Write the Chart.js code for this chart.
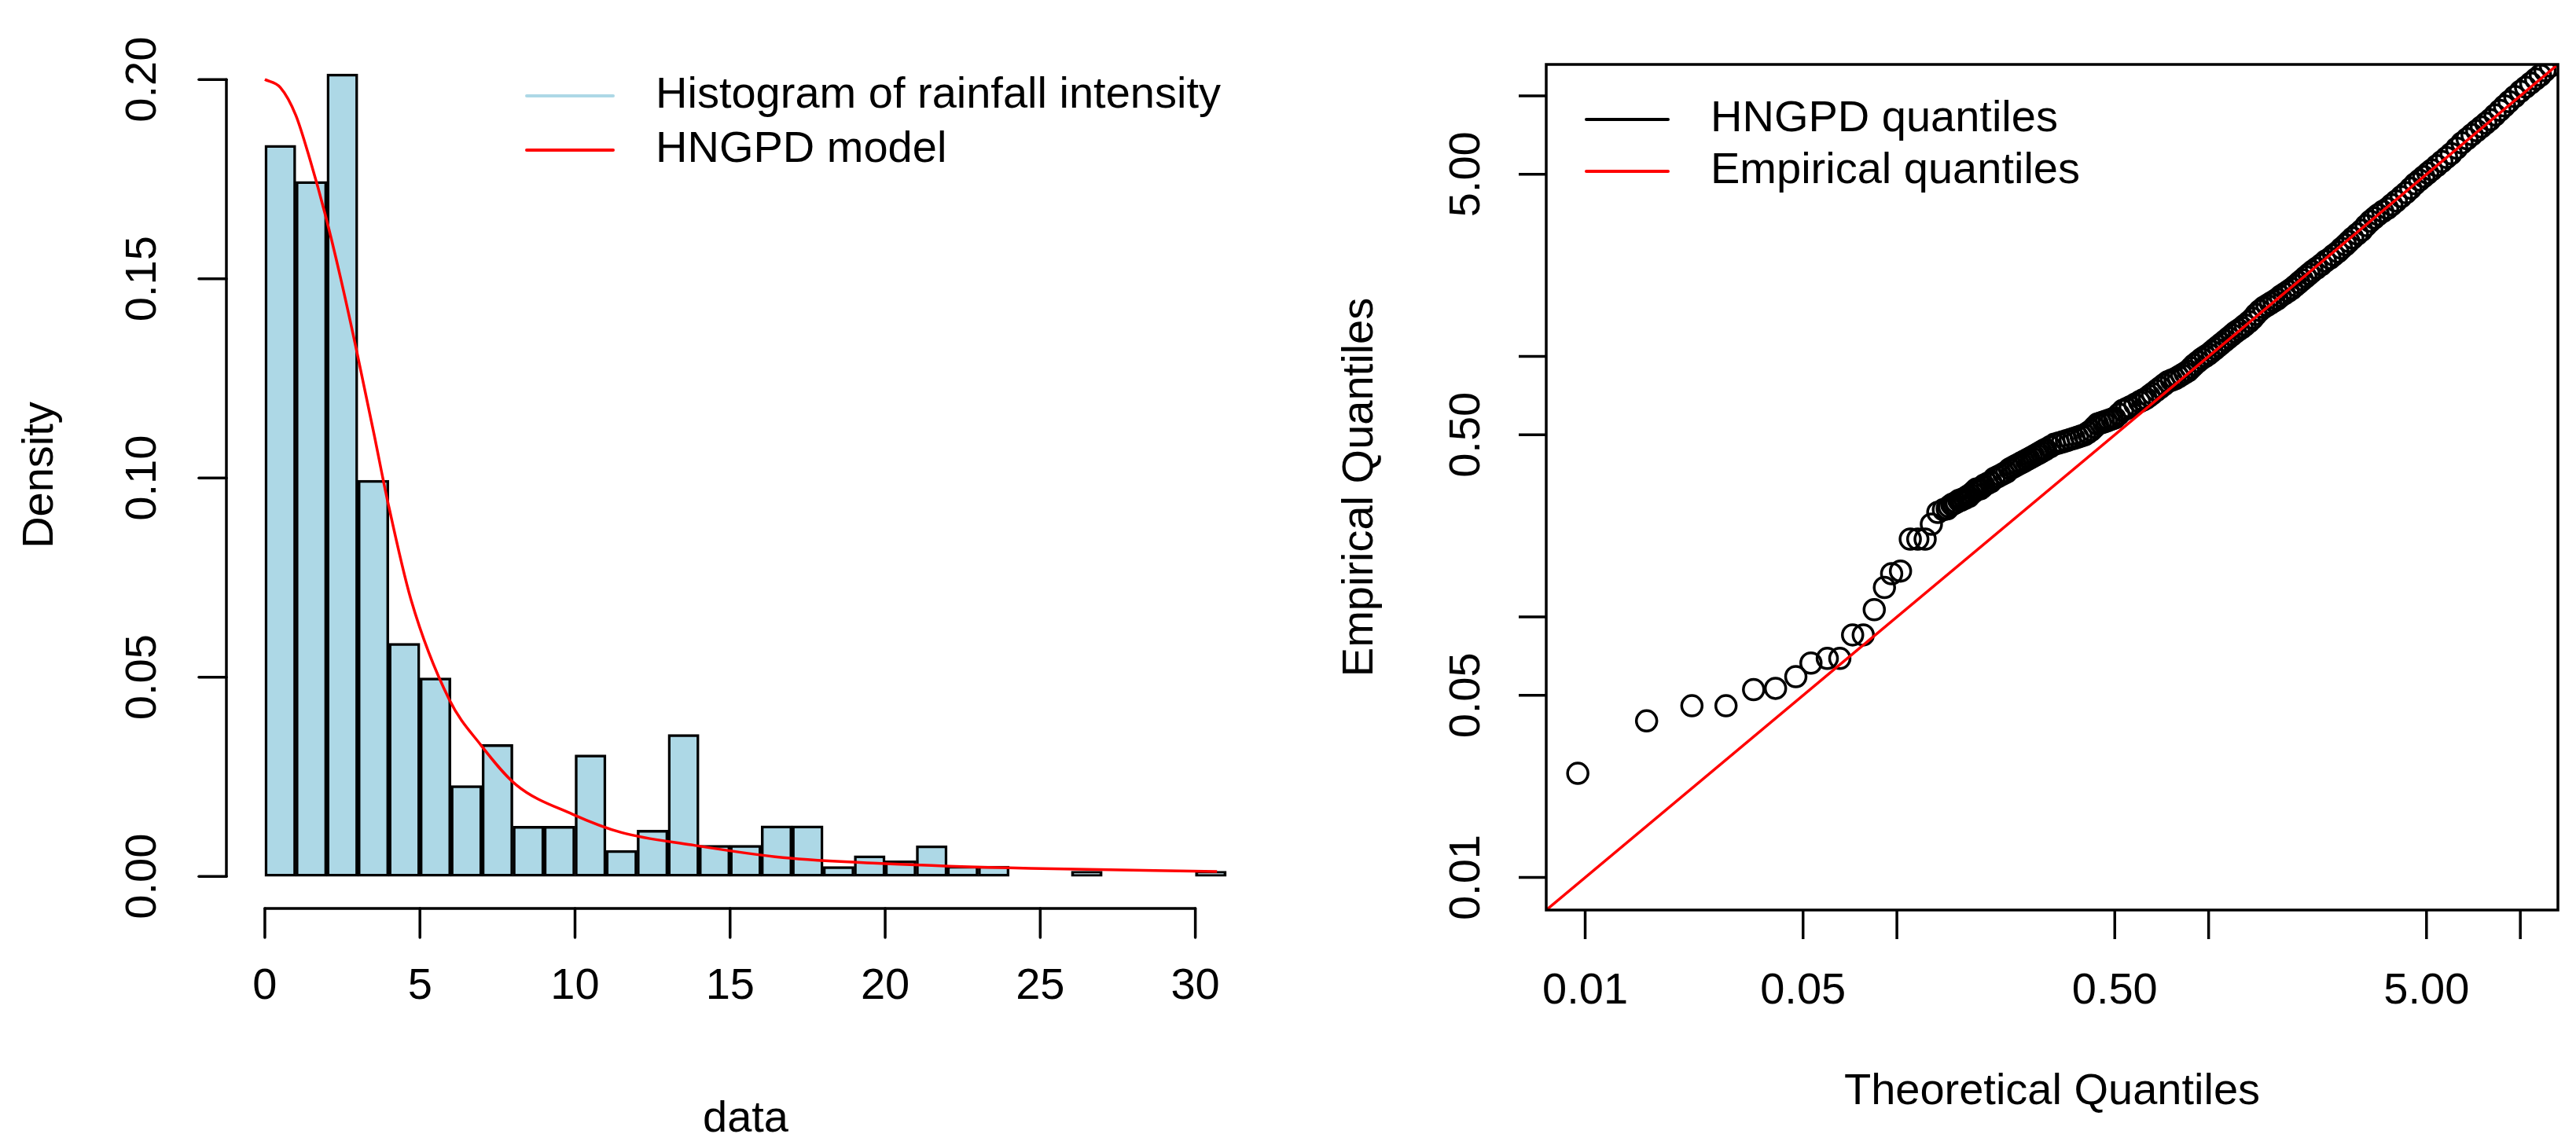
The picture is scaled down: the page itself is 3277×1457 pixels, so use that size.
<!DOCTYPE html>
<html><head><meta charset="utf-8">
<script src="https://cdn.jsdelivr.net/npm/chart.js@4"></script>
<style>body{margin:0;background:#fff;width:3277px;height:1457px;overflow:hidden;position:relative}
canvas{position:absolute;top:0}</style></head>
<body>
<canvas id="c1" width="1640" height="1457" style="left:0;width:1640px;height:1457px"></canvas>
<canvas id="c2" width="1637" height="1457" style="left:1640px;width:1637px;height:1457px"></canvas>
<script>
// ---- data ----
const binCenters = [0.5,1.5,2.5,3.5,4.5,5.5,6.5,7.5,8.5,9.5,10.5,11.5,12.5,13.5,14.5,15.5,16.5,17.5,18.5,19.5,20.5,21.5,22.5,23.5,24.5,25.5,26.5,27.5,28.5,29.5,30.5];
const binDensity = [0.1835,0.1744,0.2014,0.0994,0.0585,0.0498,0.0228,0.0331,0.0126,0.0126,0.0305,0.0065,0.0116,0.0356,0.0078,0.0078,0.0127,0.0127,0.0025,0.0052,0.0039,0.0077,0.0026,0.0026,0,0,0.0013,0,0,0,0.0013];
const curveX = [0,0.5,1,1.47,1.95,2.43,2.93,3.52,3.95,4.71,5.95,6.96,8.1,9.92,11.5,13.75,16.7,20,24.7,30.7];
const curveY = [0.2,0.198,0.191,0.1795,0.166,0.1506,0.133,0.111,0.0945,0.0695,0.0443,0.033,0.023,0.0156,0.011,0.0079,0.0047,0.0032,0.002,0.0012];
const leftXTicks = [0,5,10,15,20,25,30];
const leftYTicks = [0,0.05,0.10,0.15,0.20];
const leftYTickLabels = ["0.00","0.05","0.10","0.15","0.20"];

const qqX = [0.00947,0.01574,0.0220,0.0283,0.0347,0.0408,0.0474,0.0530,0.0598,0.0656,0.0721,0.078,0.0846,0.0912,0.0962,0.1027,0.1104,0.1167,0.1232,0.129,0.1353,0.141,
0.145,0.15,0.155,0.16,0.165,0.17,0.175,0.18,0.185,0.19,0.2,0.21,0.22,0.23,0.24,0.25,0.26,0.27,0.28,0.29,0.3,0.32,0.34,0.36,0.38,0.4,0.42,0.44,0.46,0.48,0.5,0.53,0.56,0.6,0.63,0.66,0.7,0.74,0.78,0.82,0.86,0.9,0.95,1.0,1.05,1.1,1.16,1.22,1.28,1.35,1.42,1.5,1.58,1.66,1.75,1.85,1.95,2.05,2.15,2.3,2.45,2.6,2.75,2.9,3.1,3.3,3.5,3.75,4.0,4.3,4.6,4.9,5.2,5.6,6.0,6.5,7.0,7.5,8.0,8.6,9.2,10.0,10.8,11.6,12.5];
const qqY = [0.0251,0.0399,0.0456,0.0456,0.0526,0.0532,0.059,0.0665,0.0693,0.0693,0.0853,0.0853,0.1067,0.1298,0.1466,0.150,0.199,0.199,0.199,0.227,0.252,0.258,
0.26,0.27,0.275,0.28,0.285,0.29,0.30,0.31,0.31,0.32,0.33,0.345,0.355,0.37,0.38,0.39,0.40,0.41,0.42,0.43,0.44,0.46,0.47,0.48,0.49,0.50,0.52,0.55,0.56,0.57,0.58,0.62,0.64,0.67,0.69,0.72,0.76,0.80,0.82,0.85,0.88,0.93,0.98,1.02,1.07,1.12,1.18,1.24,1.29,1.36,1.45,1.54,1.60,1.66,1.74,1.82,1.92,2.02,2.12,2.25,2.38,2.52,2.68,2.85,3.05,3.3,3.5,3.7,3.95,4.25,4.6,4.9,5.2,5.6,6.0,6.6,7.1,7.6,8.1,8.8,9.5,10.4,11.2,12.0,13.0];
const qqX2 = [0.147,0.152,0.158,0.162,0.168,0.172,0.178,0.182,0.188,0.195,0.205,0.215,0.225,0.235,0.245,0.255,0.265,0.275,0.285,0.295,0.31,0.33,0.35,0.37,0.39,0.41,0.43,0.45,0.47,0.49,0.515,0.545,0.58,0.615,0.645,0.68,0.72,0.76,0.8,0.84,0.88,0.925,0.975,1.025,1.075,1.13,1.19,1.25,1.31,1.385,1.46,1.54,1.62,1.7,1.8,1.9,2.0,2.1,2.22,2.37,2.52,2.67,2.82,3.0,3.2,3.4,3.62,3.87,4.15,4.45,4.75,5.05,5.4,5.8,6.25,6.75,7.25,7.75,8.3,8.9,9.6,10.4,11.2,12.0];
const qqY2 = [0.265,0.272,0.28,0.283,0.29,0.295,0.305,0.31,0.315,0.325,0.34,0.35,0.36,0.375,0.385,0.395,0.405,0.415,0.425,0.435,0.45,0.465,0.475,0.485,0.495,0.51,0.535,0.555,0.565,0.575,0.6,0.63,0.655,0.68,0.705,0.74,0.78,0.81,0.835,0.865,0.905,0.955,1.0,1.045,1.095,1.15,1.21,1.265,1.32,1.4,1.5,1.57,1.63,1.7,1.78,1.87,1.97,2.07,2.18,2.32,2.45,2.6,2.76,2.95,3.18,3.4,3.6,3.82,4.1,4.42,4.75,5.05,5.4,5.8,6.3,6.85,7.35,7.85,8.45,9.15,9.95,10.8,11.6,12.5];
const refLine = [0.0075,13.2];
const qqTicks = [0.01,0.05,0.1,0.5,1,5,10];
const qqTickLabels = ["0.01","0.05","","0.50","","5.00",""];

const FONT = '"Liberation Sans", Arial, sans-serif';

function leftAxes(chart){
  const c=chart.ctx, a=chart.chartArea, xs=chart.scales.x, ys=chart.scales.y;
  c.save(); c.strokeStyle='#000'; c.fillStyle='#000'; c.lineWidth=3.5; c.lineCap='round';
  c.beginPath(); c.moveTo(a.left,ys.getPixelForValue(0)); c.lineTo(a.left,ys.getPixelForValue(0.2)); c.stroke();
  c.font='56px '+FONT; c.textAlign='center'; c.textBaseline='middle';
  leftYTicks.forEach((v,i)=>{const y=ys.getPixelForValue(v);
    c.beginPath(); c.moveTo(a.left,y); c.lineTo(a.left-35,y); c.stroke();
    c.save(); c.translate(a.left-105,y); c.rotate(-Math.PI/2); c.fillText(leftYTickLabels[i],0,0); c.restore();});
  const yb=a.bottom;
  c.beginPath(); c.moveTo(xs.getPixelForValue(0),yb); c.lineTo(xs.getPixelForValue(30),yb); c.stroke();
  leftXTicks.forEach(v=>{const x=xs.getPixelForValue(v);
    c.beginPath(); c.moveTo(x,yb); c.lineTo(x,yb+37); c.stroke();
    c.fillText(String(v),x,yb+100);});
  c.fillText('data',(a.left+a.right)/2,1425);
  c.save(); c.translate(52,(a.top+a.bottom)/2); c.rotate(-Math.PI/2); c.fillText('Density',0,0); c.restore();
  c.textAlign='left'; c.lineWidth=4;
  c.strokeStyle='#add8e6'; c.beginPath(); c.moveTo(670,122); c.lineTo(780,122); c.stroke();
  c.strokeStyle='#ff0000'; c.beginPath(); c.moveTo(670,191); c.lineTo(780,191); c.stroke();
  c.fillText('Histogram of rainfall intensity',834,122);
  c.fillText('HNGPD model',834,191);
  c.restore();
}
function rightAxes(chart){
  const c=chart.ctx, a=chart.chartArea, xs=chart.scales.x, ys=chart.scales.y;
  c.save(); c.strokeStyle='#000'; c.fillStyle='#000'; c.lineWidth=3.5;
  c.strokeRect(a.left,a.top,a.right-a.left,a.bottom-a.top);
  c.font='56px '+FONT; c.textAlign='center'; c.textBaseline='middle';
  qqTicks.forEach((v,i)=>{
    const x=xs.getPixelForValue(v);
    c.beginPath(); c.moveTo(x,a.bottom); c.lineTo(x,a.bottom+37); c.stroke();
    if(qqTickLabels[i]) c.fillText(qqTickLabels[i],x,a.bottom+104);
    const y=ys.getPixelForValue(v);
    c.beginPath(); c.moveTo(a.left,y); c.lineTo(a.left-35,y); c.stroke();
    if(qqTickLabels[i]){c.save(); c.translate(a.left-100,y); c.rotate(-Math.PI/2); c.fillText(qqTickLabels[i],0,0); c.restore();}
  });
  c.fillText('Theoretical Quantiles',(a.left+a.right)/2,1390);
  c.save(); c.translate(1731-1640,(a.top+a.bottom)/2); c.rotate(-Math.PI/2); c.fillText('Empirical Quantiles',0,0); c.restore();
  c.textAlign='left'; c.lineWidth=4; c.lineCap='round';
  c.strokeStyle='#000'; c.beginPath(); c.moveTo(2018-1640,152); c.lineTo(2122-1640,152); c.stroke();
  c.strokeStyle='#ff0000'; c.beginPath(); c.moveTo(2018-1640,218); c.lineTo(2122-1640,218); c.stroke();
  c.fillText('HNGPD quantiles',2176-1640,152);
  c.fillText('Empirical quantiles',2176-1640,218);
  c.restore();
}

Chart.defaults.font.family = FONT;
new Chart(document.getElementById('c1'),{
  type:'bar',
  data:{datasets:[
    {type:'line',data:curveX.map((x,i)=>({x,y:curveY[i]})),borderColor:'#ff0000',borderWidth:3.5,pointRadius:0,cubicInterpolationMode:'monotone',order:0},
    {type:'bar',data:binCenters.map((x,i)=>({x,y:binDensity[i]})),backgroundColor:'#add8e6',borderColor:'#000',borderWidth:3.5,barPercentage:1,categoryPercentage:1,borderSkipped:false,order:1}
  ]},
  options:{responsive:false,devicePixelRatio:1,animation:false,
    layout:{padding:{left:288,right:31,top:53,bottom:301}},
    plugins:{legend:{display:false},tooltip:{enabled:false}},
    scales:{x:{type:'linear',offset:false,min:-1.24,max:32.24,display:false},y:{min:-0.00806,max:0.2095,display:false}}},
  plugins:[{id:'ax',afterDraw:leftAxes}]
});
const ptStyle = {pointRadius:13,pointBorderWidth:3.5,borderColor:'#000',pointBorderColor:'#000',backgroundColor:'rgba(0,0,0,0)',pointBackgroundColor:'rgba(0,0,0,0)',order:1};
new Chart(document.getElementById('c2'),{
  type:'scatter',
  data:{datasets:[
    {type:'line',data:refLine.map(v=>({x:v,y:v})),borderColor:'#ff0000',borderWidth:3.5,pointRadius:0,order:0},
    Object.assign({data:qqX.map((x,i)=>({x,y:qqY[i]}))},ptStyle),
    Object.assign({data:qqX2.map((x,i)=>({x,y:qqY2[i]}))},ptStyle)
  ]},
  options:{responsive:false,devicePixelRatio:1,animation:false,
    layout:{padding:{left:327,right:23,top:82,bottom:299}},
    plugins:{legend:{display:false},tooltip:{enabled:false}},
    scales:{x:{type:'logarithmic',min:0.0075,max:13.2,display:false},y:{type:'logarithmic',min:0.0075,max:13.2,display:false}}},
  plugins:[{id:'ax',afterDraw:rightAxes}]
});
</script>
</body></html>
